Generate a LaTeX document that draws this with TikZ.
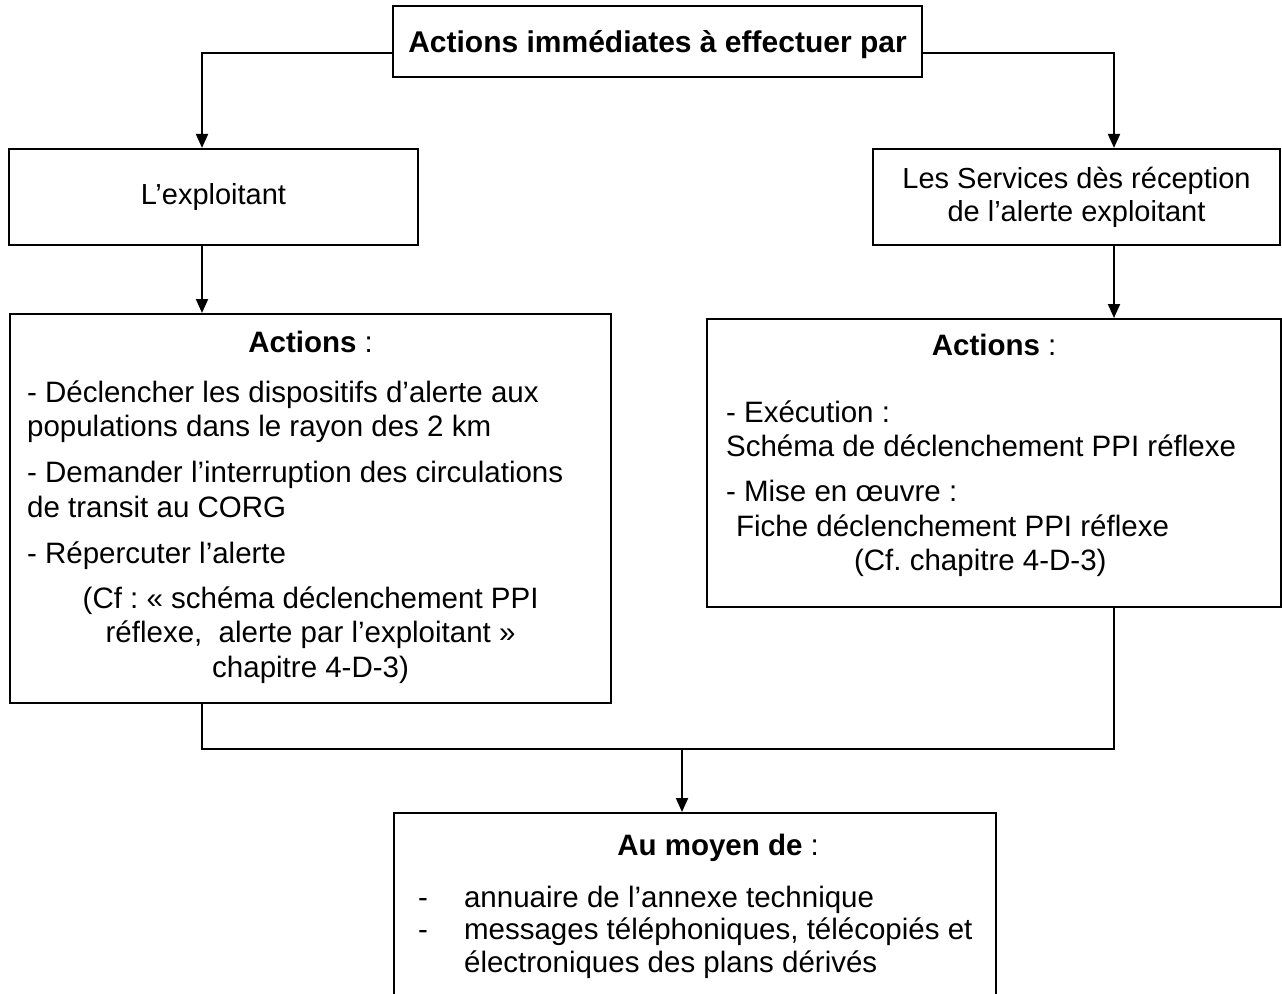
\documentclass[tikz,border=0pt]{standalone}
\usepackage{fontspec}
\setmainfont{Liberation Sans}
\usetikzlibrary{arrows.meta}
\frenchspacing
\newcommand{\ctr}[1]{\makebox[\linewidth][c]{#1}}

\begin{document}
\begin{tikzpicture}[x=0.5pt, y=-0.5pt, line width=1pt, >={Triangle[length=7pt,width=6pt]},
  panel/.style={draw, rectangle, line width=1.1pt, inner sep=0pt},
  big/.style={font=\fontsize{14.5}{16.5}\selectfont}]
\path[use as bounding box, clip] (0,0) rectangle (1282,993);
\node (title) at (657.5,41.5) [panel, minimum height=35.5pt, minimum width=264.5pt, text height=11.1pt, text depth=0pt, font=\fontsize{15}{18}\selectfont\bfseries]{Actions immédiates à effectuer par};
\node (exploit) at (213.5,197) [panel, big, minimum height=48pt, minimum width=204.5pt]{L’exploitant};
\node (services) at (1076.5,197) [panel, big, minimum height=48pt, minimum width=203.5pt, align=center]{Les Services dès réception\\de l’alerte exploitant};
\node (actL) at (9,313) [panel, anchor=north west, inner xsep=8.5pt]{\parbox[c][194.5pt][t]{283.5pt}{\fontsize{14.75}{17.25}\selectfont
\rule{0pt}{19pt}\ctr{\textbf{Actions} :}\\[7.75pt]
- Déclencher les dispositifs d’alerte aux\\
populations dans le rayon des 2 km\\[5.75pt]
- Demander l’interruption des circulations\\
de transit au CORG\\[5.75pt]
- Répercuter l’alerte\\[5.25pt]
\ctr{(Cf : « schéma déclenchement PPI}\\
\ctr{réflexe,~ alerte par l’exploitant »}\\
\ctr{chapitre 4-D-3)}}};
\node (actR) at (706,318) [panel, anchor=north west, inner xsep=9.5pt]{\parbox[c][144pt][t]{268pt}{\fontsize{14.75}{17.25}\selectfont
\rule{0pt}{18pt}\ctr{\textbf{Actions} :}\\[16.25pt]
- Exécution :\\
Schéma de déclenchement PPI réflexe\\[5.25pt]
- Mise en œuvre :\\
\hspace*{5pt}Fiche déclenchement PPI réflexe\\
\hspace*{64pt}(Cf. chapitre 4-D-3)}};
\node (moyen) at (393,812) [panel, anchor=north west, inner xsep=12pt]{\parbox[c][99pt][t]{277pt}{\fontsize{14.75}{16.25}\selectfont
\rule{0pt}{21pt}\hspace*{23pt}\makebox[\dimexpr\linewidth-23pt\relax][c]{\textbf{Au moyen de} :}\\[9.75pt]
\makebox[23pt][l]{-}annuaire de l’annexe technique\\
\mbox{\makebox[23pt][l]{-}messages téléphoniques, télécopiés et}\\
\hspace*{23pt}électroniques des plans dérivés}};

\coordinate (lcol) at (202,0);
\coordinate (rcol) at (1114,0);
\coordinate (join) at (682,749);
\draw[->] (title.base west) -| (lcol |- exploit.north);
\draw[->] (title.base east) -| (rcol |- services.north);
\draw[->] (exploit.south -| lcol) -- (lcol |- actL.north);
\draw[->] (services.south -| rcol) -- (rcol |- actR.north);
\draw (lcol |- actL.south) -- (lcol |- join) -- (rcol |- join) -- (rcol |- actR.south);
\draw[->] (join) -- (join |- moyen.north);
\end{tikzpicture}
\end{document}
